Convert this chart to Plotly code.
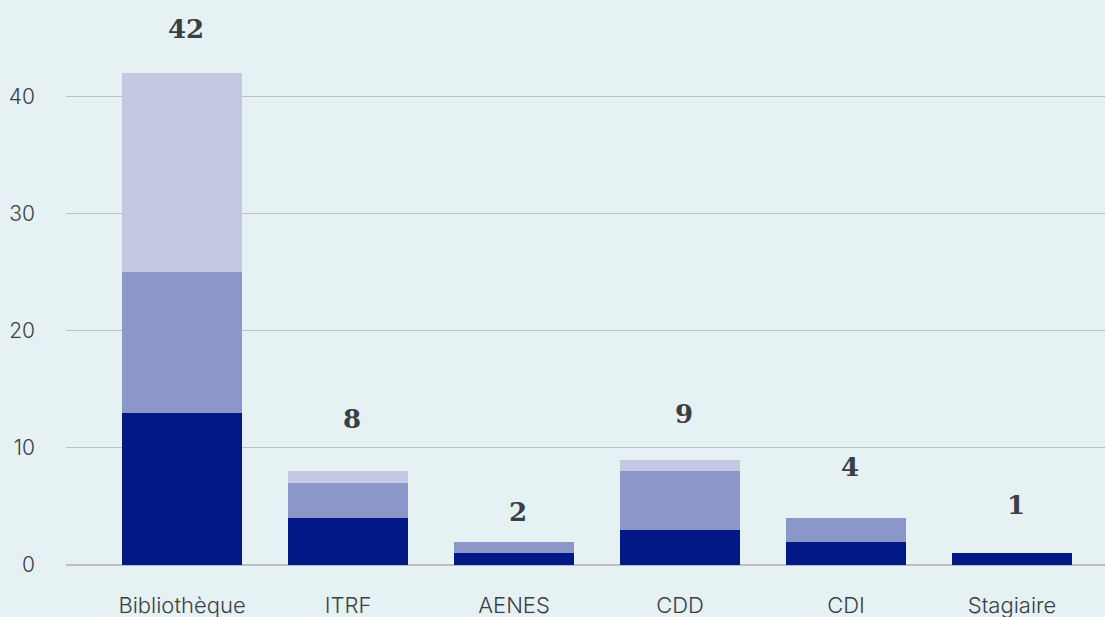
import plotly.graph_objects as go

categories = ["Bibliothèque", "ITRF", "AENES", "CDD", "CDI", "Stagiaire"]
serie_1 = [13, 4, 1, 3, 2, 1]
serie_2 = [12, 3, 1, 5, 2, 0]
serie_3 = [17, 1, 0, 1, 0, 0]
y_ticks = [0, 10, 20, 30, 40]

colors = ["#021887", "#8b96c9", "#c3c8e3"]
# pixel offsets of the total labels above each bar (styling)
label_shift = [27, 35, 13, 29, 34, 31]
totals = [a + b + c for a, b, c in zip(serie_1, serie_2, serie_3)]

fig = go.Figure()
for vals, col in zip([serie_1, serie_2, serie_3], colors):
    fig.add_trace(go.Bar(
        x=categories, y=vals, marker=dict(color=col, line=dict(width=0)),
        width=0.723, hoverinfo="skip"
    ))

for cat, tot, sh in zip(categories, totals, label_shift):
    fig.add_annotation(
        x=cat, y=tot, text=f"<b>{tot}</b>", showarrow=False,
        yanchor="bottom", yshift=sh, xshift=4,
        font=dict(family="DejaVu Serif", size=26, color="#3a3f47")
    )

fig.update_layout(
    barmode="stack",
    width=1105, height=617,
    margin=dict(l=66, r=0, t=38, b=52),
    paper_bgcolor="#e6f1f3", plot_bgcolor="#e6f1f3",
    showlegend=False,
    font=dict(family="Inter", size=22, weight=300, color="#3a3f47"),
    xaxis=dict(range=[-0.699, 5.56], showgrid=False, showline=False,
               ticks="", ticklabelstandoff=25),
    yaxis=dict(range=[0, 45], tickvals=y_ticks, showgrid=True,
               gridcolor="#b8c0c4", gridwidth=1, zeroline=True,
               zerolinecolor="#b8c0c4", zerolinewidth=2,
               ticklabelstandoff=30, tickfont=dict(size=21)),
)

fig.write_html("out.html", config={"displayModeBar": False},
               post_script="document.body.style.margin='0';")
